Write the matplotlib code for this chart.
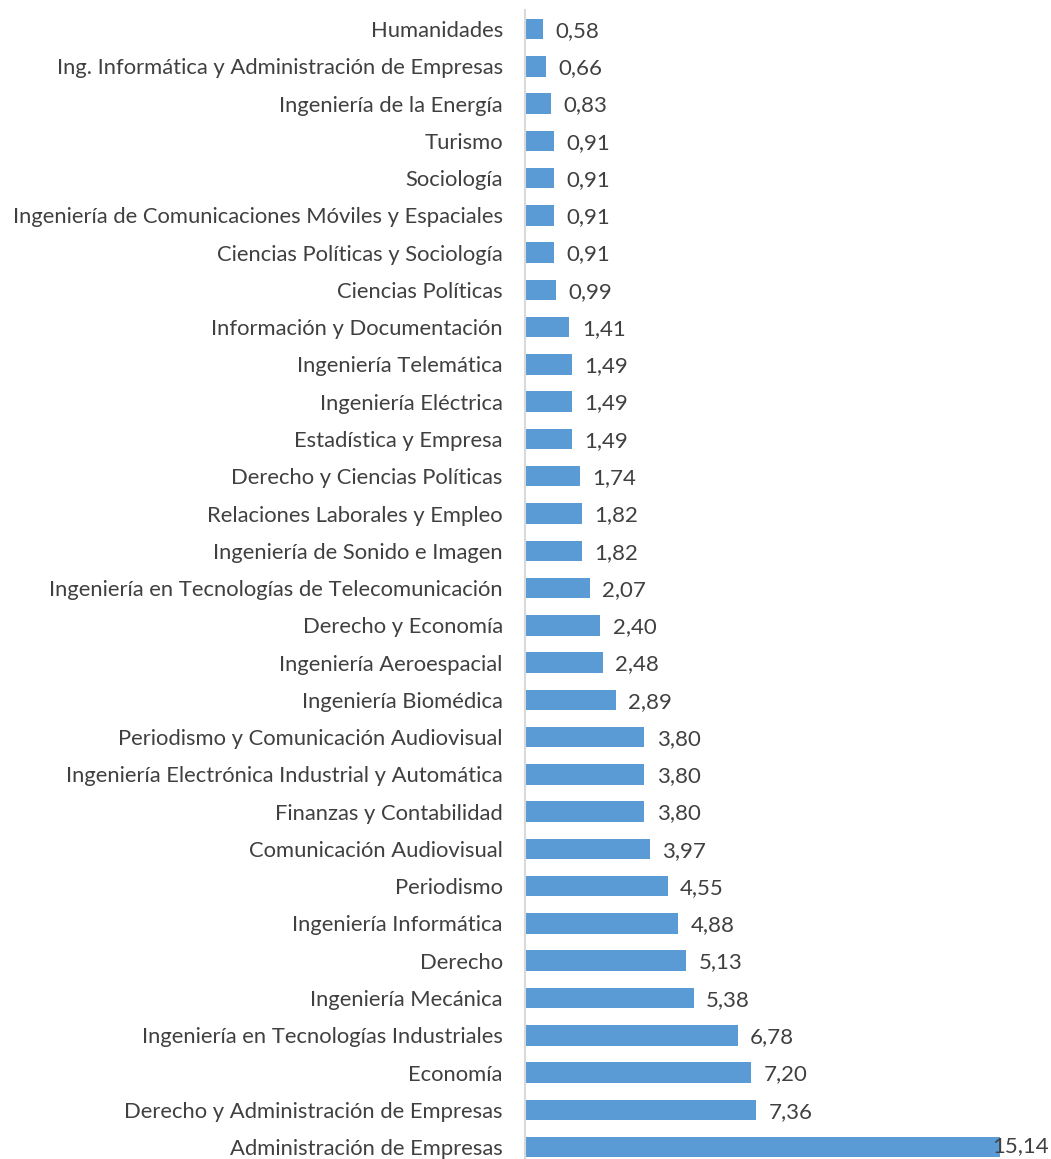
import matplotlib
matplotlib.use("Agg")
import matplotlib.pyplot as plt

# listed top to bottom as in the chart
carreras = [
    "Humanidades",
    "Ing. Informática y Administración de Empresas",
    "Ingeniería de la Energía",
    "Turismo",
    "Sociología",
    "Ingeniería de Comunicaciones Móviles y Espaciales",
    "Ciencias Políticas y Sociología",
    "Ciencias Políticas",
    "Información y Documentación",
    "Ingeniería Telemática",
    "Ingeniería Eléctrica",
    "Estadística y Empresa",
    "Derecho y Ciencias Políticas",
    "Relaciones Laborales y Empleo",
    "Ingeniería de Sonido e Imagen",
    "Ingeniería en Tecnologías de Telecomunicación",
    "Derecho y Economía",
    "Ingeniería Aeroespacial",
    "Ingeniería Biomédica",
    "Periodismo y Comunicación Audiovisual",
    "Ingeniería Electrónica Industrial y Automática",
    "Finanzas y Contabilidad",
    "Comunicación Audiovisual",
    "Periodismo",
    "Ingeniería Informática",
    "Derecho",
    "Ingeniería Mecánica",
    "Ingeniería en Tecnologías Industriales",
    "Economía",
    "Derecho y Administración de Empresas",
    "Administración de Empresas",
]
porcentajes = [0.58, 0.66, 0.83, 0.91, 0.91, 0.91, 0.91, 0.99, 1.41, 1.49,
               1.49, 1.49, 1.74, 1.82, 1.82, 2.07, 2.40, 2.48, 2.89, 3.80,
               3.80, 3.80, 3.97, 4.55, 4.88, 5.13, 5.38, 6.78, 7.20, 7.36,
               15.14]

# bottom-up for barh
carreras = carreras[::-1]
porcentajes = porcentajes[::-1]
pos = list(range(len(carreras)))

plt.rcParams['font.family'] = ['Lato', 'DejaVu Sans']
text_color = "#404040"

fig = plt.figure(figsize=(10.51, 11.59), dpi=100)
ax = fig.add_axes([525 / 1051, 0, 526 / 1051, 1149 / 1159])

ax.barh(pos, porcentajes, height=0.55, color="#5B9BD5")

ax.set_xlim(0, 16.77)
ax.set_ylim(-0.32, 30.51)

for y, v in zip(pos, porcentajes):
    txt = f"{v:.2f}".replace(".", ",")
    if v > 15:
        # the long bar's label sits tight against the right edge
        ax.text(0.995, y + 0.02, txt, va="center", ha="right",
                fontsize=16, color=text_color,
                transform=ax.get_yaxis_transform())
    else:
        ax.text(v + 0.4, y - 0.05, txt, va="center", ha="left",
                fontsize=16, color=text_color)

ax.set_yticks(pos)
ax.set_yticklabels(carreras, fontsize=15.8, color=text_color)
ax.tick_params(axis="y", length=0, pad=16)
ax.set_xticks([])

for s in ["top", "right", "bottom"]:
    ax.spines[s].set_visible(False)
ax.spines["left"].set_color("#D9D9D9")
ax.spines["left"].set_linewidth(1.5)

fig.savefig("out.png", dpi=100)
